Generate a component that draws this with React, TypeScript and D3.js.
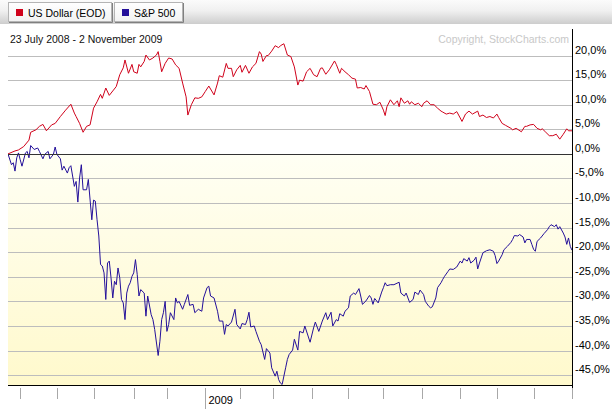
import React from "react";
import * as d3 from "d3";

const W = 612;
const H = 409;

// Chart period and market holidays (trading-day x axis)
const startDate = new Date(2008, 6, 23);
const endDate = new Date(2009, 10, 2);
const holidays = [
  "2008-09-01", "2008-11-27", "2008-12-25", "2009-01-01", "2009-01-19",
  "2009-02-16", "2009-04-10", "2009-05-25", "2009-07-03", "2009-09-07",
];

const legendNames = ["US Dollar (EOD)", "S&P 500"];
const seriesColors = ["#d0021b", "#24109a"];
const dateRangeLabel = "23 July 2008 - 2 November 2009";
const copyrightLabel = "Copyright, StockCharts.com";
const yTicks = [-45, -40, -35, -30, -25, -20, -15, -10, -5, 0, 5, 10, 15, 20];

// [trading session index, % change]
const usDollar: [number, number][] = [
  [0, 0.0], [4, 0.6], [6, 0.8], [9, 1.5], [12, 2.8], [13, 4.4], [16, 4.9], [18, 5.6], [20, 6.0],
  [22, 4.7], [25, 5.9], [27, 6.2], [30, 7.6], [33, 8.9], [36, 10.1], [38, 8.3], [39, 7.6], [41, 6.2],
  [43, 4.4], [45, 5.6], [47, 5.9], [49, 9.3], [51, 10.6], [53, 12.1], [54, 11.3], [56, 13.4], [58, 11.9],
  [60, 12.8], [62, 13.7], [64, 16.1], [66, 17.5], [67, 19.1], [69, 16.4], [71, 18.2], [72, 16.7],
  [74, 16.4], [75, 18.2], [76, 17.7], [78, 18.8], [79, 20.1], [81, 19.1], [83, 19.5], [85, 20.1],
  [86, 20.8], [87, 18.8], [88, 16.7], [90, 18.4], [92, 19.5], [94, 19.3], [96, 18.1], [98, 17.4],
  [100, 14.4], [102, 11.6], [103, 7.9], [105, 10.0], [107, 11.4], [109, 11.3], [111, 11.6], [113, 12.7],
  [115, 13.8], [118, 12.0], [120, 14.4], [121, 15.9], [123, 15.6], [125, 18.4], [126, 17.4], [128, 17.4],
  [129, 15.7], [131, 17.1], [133, 18.0], [134, 16.6], [136, 18.0], [138, 16.4], [140, 17.7], [142, 18.4],
  [144, 20.8], [145, 20.3], [146, 18.8], [148, 20.0], [149, 20.0], [151, 20.9], [153, 22.0], [155, 21.6],
  [156, 22.0], [158, 22.4], [160, 20.1], [162, 19.8], [164, 17.7], [166, 14.0], [167, 15.0], [169, 14.8],
  [171, 16.7], [173, 17.4], [175, 16.1], [177, 15.7], [179, 17.4], [180, 17.5], [182, 16.2], [184, 17.1],
  [187, 18.9], [188, 18.2], [190, 16.4], [191, 17.4], [193, 16.7], [195, 16.1], [197, 15.4], [199, 15.2],
  [200, 13.4], [202, 13.5], [204, 13.2], [205, 13.9], [207, 12.7], [209, 10.1], [211, 10.0], [213, 10.5],
  [215, 8.9], [216, 7.8], [217, 9.6], [219, 11.0], [221, 10.0], [223, 10.8], [224, 9.6], [225, 11.4],
  [227, 10.3], [229, 10.8], [230, 10.1], [231, 10.6], [233, 10.0], [235, 10.3], [237, 9.6], [238, 10.3],
  [240, 10.8], [242, 10.0], [244, 10.0], [246, 9.3], [248, 8.7], [249, 8.5], [251, 8.1], [253, 8.3],
  [255, 8.1], [257, 8.6], [259, 7.3], [260, 6.6], [262, 8.1], [264, 8.7], [266, 8.1], [269, 8.7],
  [270, 7.6], [272, 7.9], [274, 7.4], [276, 7.6], [278, 7.3], [280, 8.1], [281, 7.4], [283, 6.2],
  [285, 5.8], [288, 5.2], [289, 4.9], [291, 5.2], [294, 4.5], [296, 5.6], [297, 5.6], [299, 5.9],
  [301, 6.0], [303, 5.2], [305, 4.9], [306, 5.1], [308, 4.4], [310, 3.7], [312, 3.7], [314, 4.0],
  [316, 3.0], [318, 4.0], [320, 5.1], [321, 4.7], [323, 4.7],
];

const sp500: [number, number][] = [
  [0, 0.0], [2, -2.2], [3, -1.8], [4, -3.5], [5, -0.8], [6, 0.2], [7, -1.2], [8, -2.5], [10, 0.2],
  [11, 0.5], [12, -0.8], [13, 1.7], [15, 0.9], [17, 1.2], [18, 0.5], [20, -1.0], [21, -0.1], [23, 0.5],
  [24, -1.0], [26, -0.1], [27, 1.4], [28, -0.1], [30, -1.0], [31, -3.3], [32, -2.5], [34, -3.9],
  [35, -2.8], [36, -2.4], [38, -6.6], [39, -5.6], [40, -9.8], [41, -4.9], [42, -2.2], [43, -7.3],
  [45, -7.3], [46, -5.2], [48, -13.4], [49, -9.4], [50, -9.6], [51, -13.4], [52, -16.7], [53, -22.5],
  [54, -22.8], [55, -24.2], [56, -29.6], [57, -22.2], [58, -21.8], [59, -25.2], [60, -29.3], [61, -25.9],
  [62, -26.6], [63, -23.2], [64, -25.2], [65, -29.6], [66, -30.3], [67, -33.7], [68, -28.3], [69, -26.9],
  [70, -26.2], [71, -24.9], [72, -24.2], [73, -21.5], [74, -24.5], [75, -28.9], [76, -27.6], [78, -28.3],
  [79, -33.0], [80, -28.9], [82, -32.7], [83, -33.7], [84, -35.7], [86, -41.0], [87, -38.1], [88, -33.7],
  [89, -32.3], [90, -30.0], [91, -36.1], [92, -34.7], [93, -32.3], [95, -33.7], [96, -29.3], [97, -30.3],
  [98, -30.0], [100, -31.6], [101, -30.6], [103, -28.6], [104, -30.8], [106, -30.6], [107, -32.3],
  [109, -31.6], [111, -32.0], [112, -29.3], [114, -27.2], [115, -26.9], [116, -28.9], [118, -29.3],
  [120, -32.0], [121, -34.0], [123, -34.0], [124, -36.7], [125, -34.7], [126, -35.0], [128, -34.2],
  [130, -31.6], [131, -34.7], [133, -35.6], [134, -34.5], [136, -34.7], [137, -33.7], [138, -32.2],
  [139, -35.2], [141, -35.0], [142, -36.1], [144, -38.1], [145, -38.8], [147, -41.8], [148, -39.6],
  [150, -40.5], [151, -43.5], [153, -45.2], [154, -44.2], [155, -45.9], [156, -46.6], [157, -46.9],
  [159, -43.5], [160, -41.8], [161, -40.8], [163, -39.9], [164, -37.7], [166, -39.9], [167, -36.1],
  [169, -36.4], [170, -35.0], [173, -38.3], [175, -35.4], [176, -34.2], [178, -36.1], [180, -34.0],
  [182, -32.3], [183, -33.7], [185, -32.2], [186, -35.0], [188, -33.7], [189, -34.0], [190, -32.5],
  [192, -33.0], [193, -32.0], [195, -31.3], [196, -28.9], [198, -28.3], [199, -28.6], [201, -27.4],
  [202, -28.9], [203, -30.6], [205, -29.9], [207, -28.8], [208, -29.3], [209, -30.6], [210, -29.4],
  [212, -30.3], [214, -28.1], [215, -27.2], [216, -26.2], [217, -26.8], [219, -26.6], [221, -26.6],
  [224, -26.1], [225, -28.3], [227, -28.9], [228, -28.3], [230, -30.2], [232, -29.6], [233, -28.1],
  [235, -28.6], [236, -27.7], [238, -28.6], [239, -30.0], [241, -31.0], [242, -31.3], [243, -31.1],
  [245, -29.3], [246, -27.2], [248, -26.2], [249, -25.5], [250, -24.9], [252, -23.9], [253, -23.4],
  [255, -23.5], [257, -23.0], [259, -21.8], [260, -22.2], [261, -21.3], [263, -21.8], [264, -21.1],
  [265, -22.2], [267, -21.6], [268, -21.0], [269, -23.4], [270, -22.2], [272, -20.1], [274, -19.7],
  [276, -19.5], [278, -19.8], [279, -20.7], [280, -22.3], [281, -21.8], [283, -20.5], [284, -19.5],
  [286, -18.8], [288, -18.0], [289, -17.4], [290, -16.6], [292, -16.7], [293, -16.4], [295, -16.9],
  [296, -18.1], [297, -17.4], [299, -17.4], [300, -18.4], [301, -19.4], [302, -19.8], [303, -17.8],
  [305, -17.1], [307, -16.2], [309, -15.4], [310, -14.8], [311, -14.4], [313, -14.8], [314, -14.4],
  [315, -15.3], [316, -14.8], [318, -16.1], [319, -16.9], [320, -18.4], [321, -17.1], [322, -18.8],
  [323, -19.6],
];

function fmt(d: Date) {
  return d3.timeFormat("%Y-%m-%d")(d);
}

function buildSessions(): Date[] {
  const out: Date[] = [];
  const hol = new Set(holidays);
  for (let d = new Date(startDate); d <= endDate; d = d3.timeDay.offset(d, 1)) {
    const wd = d.getDay();
    if (wd === 0 || wd === 6) continue;
    if (hol.has(fmt(d))) continue;
    out.push(new Date(d));
  }
  return out;
}

export default function App() {
  const sessions = buildSessions();
  const plot = { left: 8, right: 572, top: 29, bottom: 385 };
  const x = d3.scaleLinear().domain([0, sessions.length - 1]).range([plot.left, plot.right]);
  const y = d3.scaleLinear().domain([-47, 25.4]).range([plot.bottom, plot.top]);

  const monthTicks: { i: number; d: Date }[] = [];
  sessions.forEach((d, i) => {
    if (i > 0 && d.getMonth() !== sessions[i - 1].getMonth()) monthTicks.push({ i, d });
  });

  const line = d3
    .line<[number, number]>()
    .x((p) => x(p[0]))
    .y((p) => y(p[1]))
    .curve(d3.curveLinear);

  const font = "'Liberation Sans', Arial, sans-serif";
  const y0 = Math.round(y(0)) + 0.5;

  return (
    <svg width={W} height={H} style={{ position: "absolute", left: 0, top: 0 }} fontFamily={font}>
      <defs>
        <linearGradient id="hdr" x1="0" y1="0" x2="0" y2="1">
          <stop offset="0" stopColor="#fbfbfb" />
          <stop offset="0.45" stopColor="#f0f0f0" />
          <stop offset="1" stopColor="#cdcdcd" />
        </linearGradient>
        <linearGradient id="tab" x1="0" y1="0" x2="0" y2="1">
          <stop offset="0" stopColor="#ffffff" />
          <stop offset="1" stopColor="#f2f2f2" />
        </linearGradient>
        <linearGradient id="neg" x1="0" y1="0" x2="0" y2="1">
          <stop offset="0" stopColor="#fffff4" />
          <stop offset="1" stopColor="#fff9cc" />
        </linearGradient>
        <clipPath id="plotClip">
          <rect x={plot.left} y={plot.top} width={plot.right - plot.left} height={plot.bottom - plot.top} />
        </clipPath>
      </defs>
      <rect x={0} y={0} width={W} height={H} fill="#ffffff" />
      {/* header */}
      <rect x={0} y={0} width={W} height={24} fill="url(#hdr)" />
      {legendNames.map((name, k) => {
        const tx = k === 0 ? 8 : 114;
        const tw = k === 0 ? 103 : 68;
        return (
          <g key={name}>
            <rect x={tx + 0.5} y={2.5} width={tw} height={19} fill="url(#tab)" stroke="#b4b4b4" />
            <line x1={tx + tw + 1.5} y1={3} x2={tx + tw + 1.5} y2={22.5} stroke="#808080" />
            <line x1={tx + 1} y1={22.5} x2={tx + tw + 1.5} y2={22.5} stroke="#808080" />
            <rect x={tx + 8} y={9} width={7} height={7} fill={seriesColors[k]} />
            <text x={tx + 20} y={17} fontSize={10.5} fill="#000">
              {name}
            </text>
          </g>
        );
      })}
      {/* plot background */}
      <rect x={plot.left} y={y(0)} width={plot.right - plot.left} height={plot.bottom - y(0)} fill="url(#neg)" />
      {/* gridlines */}
      {yTicks
        .filter((v) => v !== 0)
        .map((v) => (
          <line key={v} x1={plot.left} x2={plot.right} y1={Math.round(y(v)) + 0.5} y2={Math.round(y(v)) + 0.5} stroke="#bdbdbd" />
        ))}
      <text x={10} y={43} fontSize={10.5} fill="#111">
        {dateRangeLabel}
      </text>
      <text x={569} y={43} fontSize={10.5} fill="#c8c8c8" textAnchor="end">
        {copyrightLabel}
      </text>
      {/* lines */}
      <g clipPath="url(#plotClip)">
        <path d={line(sp500) || ""} fill="none" stroke={seriesColors[1]} strokeWidth={1} />
        <path d={line(usDollar) || ""} fill="none" stroke={seriesColors[0]} strokeWidth={1} />
      </g>
      {/* zero line */}
      <line x1={plot.left} x2={plot.right} y1={y0} y2={y0} stroke="#333333" />
      {/* bottom axis */}
      <line x1={plot.left} x2={plot.right} y1={plot.bottom + 0.5} y2={plot.bottom + 0.5} stroke="#000" />
      {/* right axis */}
      <line x1={plot.right + 0.5} x2={plot.right + 0.5} y1={plot.top} y2={plot.bottom + 13} stroke="#000" />
      {monthTicks.map(({ i, d }) => {
        const xx = Math.round(x(i)) + 0.5;
        const isYear = d.getMonth() === 0;
        return (
          <g key={i}>
            <line x1={xx} x2={xx} y1={plot.bottom + 3} y2={isYear ? H : plot.bottom + 14} stroke="#a8a8a8" />
            {isYear && (
              <text x={xx + 3} y={404} fontSize={11} fill="#000">
                {d.getFullYear()}
              </text>
            )}
          </g>
        );
      })}
      {/* right labels */}
      {yTicks.map((v) => (
        <text key={v} x={575} y={Math.round(y(v)) - 2} fontSize={11} fill="#000">
          {`${v.toFixed(1).replace(".", ",")}%`}
        </text>
      ))}
    </svg>
  );
}
